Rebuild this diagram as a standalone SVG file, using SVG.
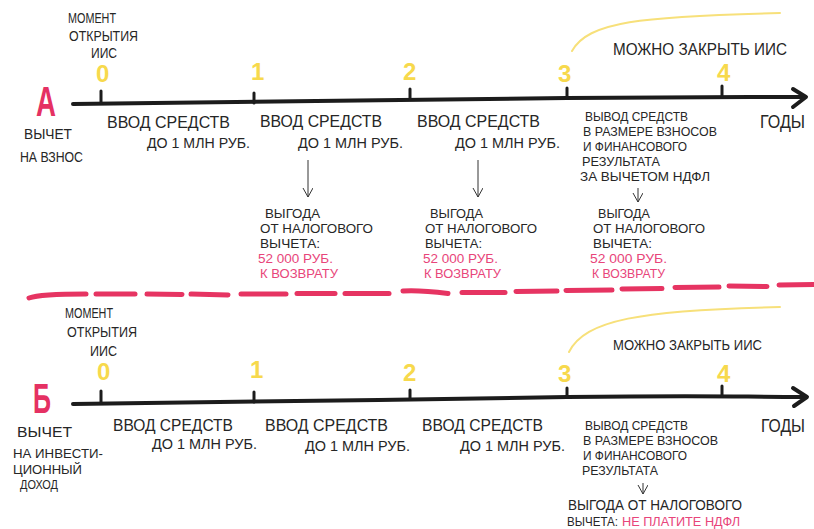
<svg xmlns="http://www.w3.org/2000/svg" width="814" height="529" viewBox="0 0 814 529">
<defs>
<style>
.t{font-family:"Liberation Sans","DejaVu Sans",sans-serif;fill:#262626;font-size:13px}
.s14{font-size:14px}.s15{font-size:15px}.s16{font-size:16px}.s17{font-size:17px}.s19{font-size:19px}
.red{fill:#e8457a}
.num{font-family:"Liberation Sans","DejaVu Sans",sans-serif;font-weight:bold;fill:#f7d94c;font-size:24px}
.big{font-family:"Liberation Sans","DejaVu Sans",sans-serif;font-weight:bold;fill:#e53163;font-size:43px}
.axis{stroke:#1c1c1c;stroke-width:4;fill:none;stroke-linecap:round;stroke-linejoin:round}
.tick{stroke:#1c1c1c;stroke-width:3;stroke-linecap:round}
.thin{stroke:#333;stroke-width:1;fill:none}
.arc{stroke:#f7e07a;stroke-width:2;fill:none;stroke-linecap:round}
.dash{stroke:#e63462;stroke-width:5;stroke-linecap:round;fill:none}
</style>
<marker id="v" markerWidth="12" markerHeight="12" refX="10" refY="5" orient="auto" markerUnits="userSpaceOnUse">
<path d="M1,0 L10,5 L1,10" fill="none" stroke="#333" stroke-width="1"/>
</marker>
</defs>
<rect width="814" height="529" fill="#fff"/>

<g id="connectors">
<path class="axis" d="M73,104 C250,103 400,99 567,98 S730,97 804,97"/>
<path class="axis" d="M793,89 L806,97 L793,107"/>
<line class="tick" x1="101" y1="91" x2="101" y2="103"/>
<line class="tick" x1="254" y1="93" x2="254" y2="103"/>
<line class="tick" x1="410" y1="89" x2="410" y2="99"/>
<line class="tick" x1="567" y1="88" x2="567" y2="98"/>
<line class="tick" x1="722" y1="86" x2="722" y2="96"/>
<path class="arc" d="M572,51 C588,22 640,16 780,13"/>
<path class="thin" d="M308,160 L308,197" marker-end="url(#v)"/>
<path class="thin" d="M478,160 L478,197" marker-end="url(#v)"/>
<path class="thin" d="M638,188 L638,202" marker-end="url(#v)"/>

<g id="divider">
<path class="dash" d="M29,298 Q40,294 86,294"/>
<path class="dash" d="M96,294 L135,294"/>
<path class="dash" d="M147,294 L182,294.5"/>
<path class="dash" d="M191,294 L228,295"/>
<path class="dash" d="M241,294 L286,294"/>
<path class="dash" d="M297,293.5 L335,293.5"/>
<path class="dash" d="M345,293.5 L389,293.5"/>
<path class="dash" d="M403,291 Q420,290 448,293.5"/>
<path class="dash" d="M462,292.5 L505,292.5"/>
<path class="dash" d="M516,291.5 L557,291"/>
<path class="dash" d="M566,290.5 L612,290"/>
<path class="dash" d="M622,289 L662,288.5"/>
<path class="dash" d="M675,287.5 L719,287"/>
<path class="dash" d="M729,286 L767,286.5"/>
<path class="dash" d="M779,285 L814,284.5"/>
</g>

<path class="axis" d="M73,404 C250,403 400,399 567,397 S730,397 805,397"/>
<path class="axis" d="M793,388 L807,397 L794,406"/>
<line class="tick" x1="101" y1="391" x2="101" y2="403"/>
<line class="tick" x1="254" y1="392" x2="254" y2="402"/>
<line class="tick" x1="410" y1="390" x2="410" y2="399"/>
<line class="tick" x1="567" y1="388" x2="567" y2="397"/>
<line class="tick" x1="722" y1="386" x2="722" y2="396"/>
<path class="arc" d="M569,352 C585,320 640,310 780,307"/>
<path class="thin" d="M643,483 L643,494" marker-end="url(#v)"/>
</g>

<g id="a-open">
<text class="t s14" x="68" y="23" textLength="48" lengthAdjust="spacingAndGlyphs">МОМЕНТ</text>
<text class="t s14" x="69" y="41" textLength="69" lengthAdjust="spacingAndGlyphs">ОТКРЫТИЯ</text>
<text class="t s14" x="91" y="58" textLength="26" lengthAdjust="spacingAndGlyphs">ИИС</text>
</g>
<g id="a-years">
<text class="num" x="96" y="82">0</text>
<text class="num" x="251" y="80">1</text>
<text class="num" x="403" y="80">2</text>
<text class="num" x="558" y="82">3</text>
<text class="num" x="717" y="81">4</text>
</g>
<g id="a-label">
<text class="big" x="36" y="116" textLength="20" lengthAdjust="spacingAndGlyphs">А</text>
<text class="t s15" x="24" y="139" textLength="48" lengthAdjust="spacingAndGlyphs">ВЫЧЕТ</text>
<text class="t s15" x="20" y="162" textLength="63" lengthAdjust="spacingAndGlyphs">НА ВЗНОС</text>
</g>
<g id="a-y1">
<text class="t s17" x="107" y="128" textLength="123" lengthAdjust="spacingAndGlyphs">ВВОД СРЕДСТВ</text>
<text class="t s15" x="147" y="148" textLength="103" lengthAdjust="spacingAndGlyphs">ДО 1 МЛН РУБ.</text>
</g>
<g id="a-y2">
<text class="t s17" x="260" y="127" textLength="122" lengthAdjust="spacingAndGlyphs">ВВОД СРЕДСТВ</text>
<text class="t s15" x="298" y="148" textLength="105" lengthAdjust="spacingAndGlyphs">ДО 1 МЛН РУБ.</text>
</g>
<g id="a-y3">
<text class="t s17" x="417" y="127" textLength="123" lengthAdjust="spacingAndGlyphs">ВВОД СРЕДСТВ</text>
<text class="t s15" x="455" y="148" textLength="105" lengthAdjust="spacingAndGlyphs">ДО 1 МЛН РУБ.</text>
</g>
<g id="a-benefit1">
<text class="t" x="265" y="218" textLength="55" lengthAdjust="spacingAndGlyphs">ВЫГОДА</text>
<text class="t" x="260" y="233" textLength="113" lengthAdjust="spacingAndGlyphs">ОТ НАЛОГОВОГО</text>
<text class="t" x="260" y="248" textLength="60" lengthAdjust="spacingAndGlyphs">ВЫЧЕТА:</text>
<text class="t red" x="258" y="263" textLength="75" lengthAdjust="spacingAndGlyphs">52 000 РУБ.</text>
<text class="t red" x="260" y="278" textLength="78" lengthAdjust="spacingAndGlyphs">К ВОЗВРАТУ</text>
</g>
<g id="a-benefit2">
<text class="t" x="430" y="218" textLength="53" lengthAdjust="spacingAndGlyphs">ВЫГОДА</text>
<text class="t" x="425" y="233" textLength="112" lengthAdjust="spacingAndGlyphs">ОТ НАЛОГОВОГО</text>
<text class="t" x="425" y="248" textLength="57" lengthAdjust="spacingAndGlyphs">ВЫЧЕТА:</text>
<text class="t red" x="423" y="263" textLength="75" lengthAdjust="spacingAndGlyphs">52 000 РУБ.</text>
<text class="t red" x="424" y="278" textLength="77" lengthAdjust="spacingAndGlyphs">К ВОЗВРАТУ</text>
</g>
<g id="a-withdraw">
<text class="t" x="585" y="121" textLength="103" lengthAdjust="spacingAndGlyphs">ВЫВОД СРЕДСТВ</text>
<text class="t" x="583" y="136" textLength="134" lengthAdjust="spacingAndGlyphs">В РАЗМЕРЕ ВЗНОСОВ</text>
<text class="t" x="583" y="151" textLength="104" lengthAdjust="spacingAndGlyphs">И ФИНАНСОВОГО</text>
<text class="t" x="582" y="166" textLength="78" lengthAdjust="spacingAndGlyphs">РЕЗУЛЬТАТА</text>
<text class="t" x="580" y="181" textLength="130" lengthAdjust="spacingAndGlyphs">ЗА ВЫЧЕТОМ НДФЛ</text>
</g>
<g id="a-benefit3">
<text class="t" x="598" y="218" textLength="52" lengthAdjust="spacingAndGlyphs">ВЫГОДА</text>
<text class="t" x="593" y="233" textLength="112" lengthAdjust="spacingAndGlyphs">ОТ НАЛОГОВОГО</text>
<text class="t" x="593" y="248" textLength="59" lengthAdjust="spacingAndGlyphs">ВЫЧЕТА:</text>
<text class="t red" x="590" y="263" textLength="77" lengthAdjust="spacingAndGlyphs">52 000 РУБ.</text>
<text class="t red" x="592" y="278" textLength="73" lengthAdjust="spacingAndGlyphs">К ВОЗВРАТУ</text>
</g>
<g id="a-close">
<text class="t s16" x="613" y="55" textLength="174" lengthAdjust="spacingAndGlyphs">МОЖНО ЗАКРЫТЬ ИИС</text>
</g>
<g id="a-years-label">
<text class="t s19" x="760" y="128" textLength="45" lengthAdjust="spacingAndGlyphs">ГОДЫ</text>
</g>

<g id="b-open">
<text class="t s14" x="65" y="318" textLength="48" lengthAdjust="spacingAndGlyphs">МОМЕНТ</text>
<text class="t s14" x="67" y="337" textLength="70" lengthAdjust="spacingAndGlyphs">ОТКРЫТИЯ</text>
<text class="t s14" x="90" y="356" textLength="27" lengthAdjust="spacingAndGlyphs">ИИС</text>
</g>
<g id="b-years">
<text class="num" x="97" y="380">0</text>
<text class="num" x="250" y="378">1</text>
<text class="num" x="403" y="381">2</text>
<text class="num" x="558" y="382">3</text>
<text class="num" x="717" y="382">4</text>
</g>
<g id="b-label">
<text class="big" x="33" y="413" textLength="18" lengthAdjust="spacingAndGlyphs">Б</text>
<text class="t s15" x="17" y="437" textLength="55" lengthAdjust="spacingAndGlyphs">ВЫЧЕТ</text>
<text class="t" x="13" y="458" textLength="90" lengthAdjust="spacingAndGlyphs">НА ИНВЕСТИ-</text>
<text class="t" x="13" y="474" textLength="69" lengthAdjust="spacingAndGlyphs">ЦИОННЫЙ</text>
<text class="t" x="20" y="489" textLength="38" lengthAdjust="spacingAndGlyphs">ДОХОД</text>
</g>
<g id="b-y1">
<text class="t s17" x="113" y="431" textLength="120" lengthAdjust="spacingAndGlyphs">ВВОД СРЕДСТВ</text>
<text class="t s15" x="152" y="449" textLength="105" lengthAdjust="spacingAndGlyphs">ДО 1 МЛН РУБ.</text>
</g>
<g id="b-y2">
<text class="t s17" x="265" y="431" textLength="123" lengthAdjust="spacingAndGlyphs">ВВОД СРЕДСТВ</text>
<text class="t s15" x="305" y="451" textLength="105" lengthAdjust="spacingAndGlyphs">ДО 1 МЛН РУБ.</text>
</g>
<g id="b-y3">
<text class="t s17" x="422" y="431" textLength="121" lengthAdjust="spacingAndGlyphs">ВВОД СРЕДСТВ</text>
<text class="t s15" x="460" y="451" textLength="105" lengthAdjust="spacingAndGlyphs">ДО 1 МЛН РУБ.</text>
</g>
<g id="b-withdraw">
<text class="t" x="585" y="430" textLength="103" lengthAdjust="spacingAndGlyphs">ВЫВОД СРЕДСТВ</text>
<text class="t" x="583" y="445" textLength="135" lengthAdjust="spacingAndGlyphs">В РАЗМЕРЕ ВЗНОСОВ</text>
<text class="t" x="583" y="460" textLength="104" lengthAdjust="spacingAndGlyphs">И ФИНАНСОВОГО</text>
<text class="t" x="582" y="475" textLength="76" lengthAdjust="spacingAndGlyphs">РЕЗУЛЬТАТА</text>
</g>
<g id="b-benefit">
<text class="t s15" x="568" y="510" textLength="174" lengthAdjust="spacingAndGlyphs">ВЫГОДА ОТ НАЛОГОВОГО</text>
<text class="t" x="567" y="526" textLength="51" lengthAdjust="spacingAndGlyphs">ВЫЧЕТА:</text>
<text class="t red" x="622" y="526" textLength="118" lengthAdjust="spacingAndGlyphs">НЕ ПЛАТИТЕ НДФЛ</text>
</g>
<g id="b-close">
<text class="t s15" x="613" y="350" textLength="149" lengthAdjust="spacingAndGlyphs">МОЖНО ЗАКРЫТЬ ИИС</text>
</g>
<g id="b-years-label">
<text class="t s19" x="761" y="432" textLength="44" lengthAdjust="spacingAndGlyphs">ГОДЫ</text>
</g>
</svg>
